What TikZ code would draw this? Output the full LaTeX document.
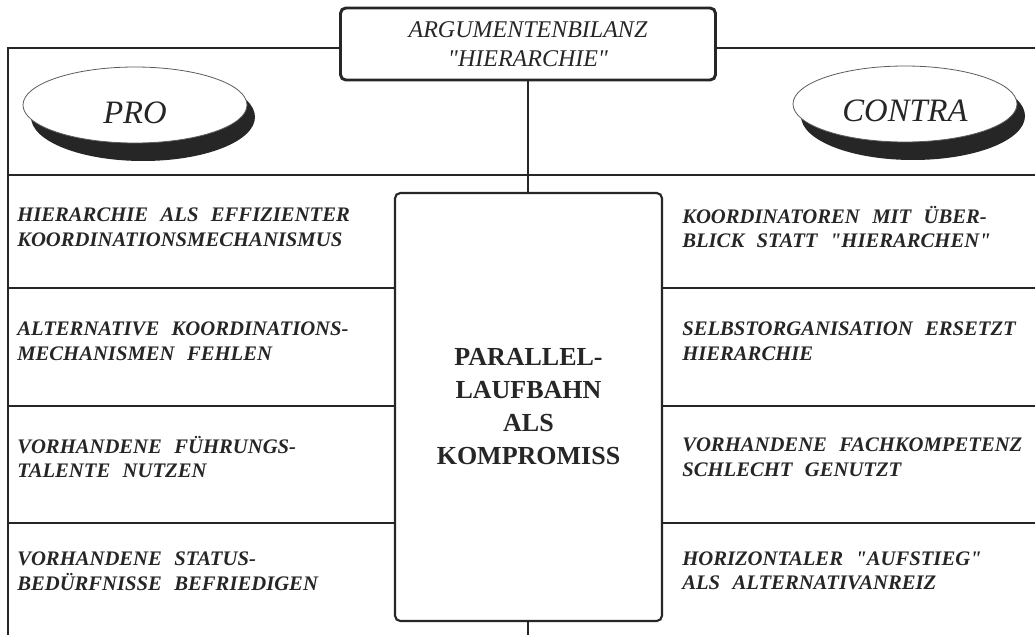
\documentclass[tikz,border=0pt]{standalone}
\usepackage{fontspec}
\setmainfont{Liberation Serif}[Ligatures=TeXOff]
\usetikzlibrary{shapes.geometric}
\definecolor{ink}{HTML}{262626}
\newcommand\itemfont{\fontsize{15.5}{18.4}\selectfont\bfseries\itshape\spaceskip=0.6em plus 0.1em\relax}
\begin{document}
\begin{tikzpicture}[x=0.75pt,y=-0.75pt,
  rule/.style={draw=ink,line width=2pt},
  titlebox/.style={draw=ink,line width=2.2pt,rounded corners=4pt,fill=white,minimum width=281.25pt,minimum height=54pt,inner sep=0pt,align=center,font=\fontsize{18}{21.75}\selectfont\itshape,text=ink},
  midbox/.style={draw=ink,line width=1.6pt,rounded corners=4pt,fill=white,minimum width=200.25pt,minimum height=321pt,inner sep=0pt,align=center,font=\fontsize{19.5}{24.75}\selectfont\bfseries,text=ink},
  item/.style={anchor=west,align=left,inner sep=0pt,font=\itemfont,text=ink},
  oval/.style={ellipse,draw=ink!75,line width=0.6pt,fill=white,minimum width=168pt,minimum height=57pt,inner sep=0pt,text height=27pt,text depth=0pt,font=\fontsize{24.5}{28}\selectfont\itshape,text=ink},
  shade/.style={ellipse,fill=ink,minimum width=168pt,minimum height=66pt,inner sep=0pt}
]
\useasboundingbox[fill=white] (0,0) rectangle (1035,635);

% frame coordinates
\coordinate (tl) at (8,48);
\coordinate (tr) at (1045,48);
\coordinate (bl) at (8,645);
\coordinate (h0l) at (8,175);   \coordinate (h0r) at (1045,175);
\coordinate (h1l) at (8,288);   \coordinate (h1r) at (1045,288);
\coordinate (h2l) at (8,406);   \coordinate (h2r) at (1045,406);
\coordinate (h3l) at (8,523);   \coordinate (h3r) at (1045,523);
\coordinate (bm) at (528,645);

% boxes
\node[titlebox] (title) at (528,44) {ARGUMENTENBILANZ\\"HIERARCHIE"};
\node[midbox] (mid) at (528.5,407) {PARALLEL-\\LAUFBAHN\\ALS\\KOMPROMISS};

% frame lines
\draw[rule] (title.west |- tl) -- (tl) -- (bl);
\draw[rule] (title.east |- tr) -- (tr);
\draw[rule] (h0l) -- (h0r);
\draw[rule] (h1l) -- (h1l -| mid.west);
\draw[rule] (h1r -| mid.east) -- (h1r);
\draw[rule] (h2l) -- (h2l -| mid.west);
\draw[rule] (h2r -| mid.east) -- (h2r);
\draw[rule] (h3l) -- (h3l -| mid.west);
\draw[rule] (h3r -| mid.east) -- (h3r);
\draw[rule] (title.south) -- (title.south |- mid.north);
\draw[rule] (mid.south -| bm) -- (bm);

% ovals
\node[shade] (proshade) at (143,117) {};
\node[oval] (pro) at (135,105) {PRO};
\node[shade] (contrashade) at (913,116) {};
\node[oval] (contra) at (905,104) {CONTRA};

% pro items
\node[item] (p1) at (17,227) {HIERARCHIE ALS EFFIZIENTER\\KOORDINATIONSMECHANISMUS};
\node[item] (p2) at (17,341) {ALTERNATIVE KOORDINATIONS-\\MECHANISMEN FEHLEN};
\node[item] (p3) at (17,457) {VORHANDENE FÜHRUNGS-\\TALENTE NUTZEN};
\node[item] (p4) at (17,571) {VORHANDENE STATUS-\\BEDÜRFNISSE BEFRIEDIGEN};

% contra items
\node[item] (c1) at (682,227) {KOORDINATOREN MIT ÜBER-\\BLICK STATT "HIERARCHEN"};
\node[item] (c2) at (682,341) {SELBSTORGANISATION ERSETZT\\HIERARCHIE};
\node[item] (c3) at (682,457) {VORHANDENE FACHKOMPETENZ\\SCHLECHT GENUTZT};
\node[item] (c4) at (682,571) {HORIZONTALER "AUFSTIEG"\\ALS ALTERNATIVANREIZ};
\end{tikzpicture}
\end{document}
